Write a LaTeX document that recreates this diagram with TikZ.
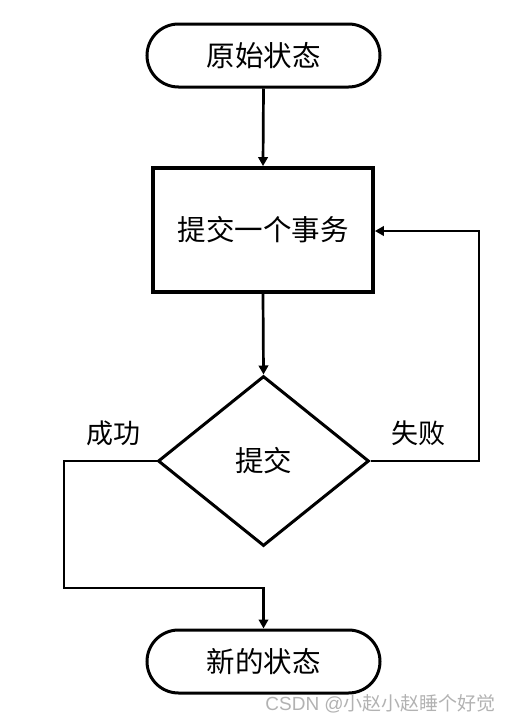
\documentclass[tikz,border=0pt]{standalone}
\usepackage{fontspec}
\setmainfont{Noto Sans CJK SC}
\newfontfamily\wmfont{Liberation Sans}
\usetikzlibrary{shapes.geometric,shapes.misc,arrows.meta}
\begin{document}
\begin{tikzpicture}[x=1pt,y=-1pt,
  pill/.style={draw,line width=3pt,rounded rectangle,minimum width=233pt,minimum height=63pt,inner sep=0pt,font=\fontsize{28.5}{32}\selectfont},
  box/.style={draw,line width=3.8pt,minimum width=220pt,minimum height=124pt,inner sep=0pt,font=\fontsize{28.5}{32}\selectfont},
  dia/.style={draw,line width=3pt,diamond,minimum width=211pt,minimum height=170pt,inner sep=0pt,font=\fontsize{28.5}{32}\selectfont},
  conn/.style={line width=2.7pt,-{Triangle[length=9pt,width=9.5pt]}},
  lbl/.style={font=\fontsize{27}{30}\selectfont}]
\useasboundingbox (0,0) rectangle (512,723);
\node[pill] (start) at (263.5,55.5) {原始状态};
\node[box] (commit) at (263,230) {提交一个事务};
\node[dia] (check) at (263.5,461) {提交};
\node[pill] (end) at (263.5,661.5) {新的状态};
\coordinate (r1) at (479,461);
\coordinate (r2) at (479,231);
\coordinate (l1) at (64,461);
\coordinate (l2) at (64,588);
\coordinate (l3) at (263.5,588);
\draw[conn] (start.south) -- (commit.north);
\draw[conn] (commit.south) -- (check.north);
\draw[conn] (check.east) -- (r1) -- (r2) -- (commit.east |- r2);
\draw[conn] (check.west) -- (l1) -- (l2) -- (l3) -- (end.north);
\node[lbl] (ok) at (113,433) {成功};
\node[lbl] (fail) at (418,433) {失败};
\node[text=gray!60,font=\fontsize{19}{21}\selectfont,anchor=east,inner sep=0pt] (wm) at (496,704) {{\wmfont CSDN @}小赵小赵睡个好觉};
\end{tikzpicture}
\end{document}
